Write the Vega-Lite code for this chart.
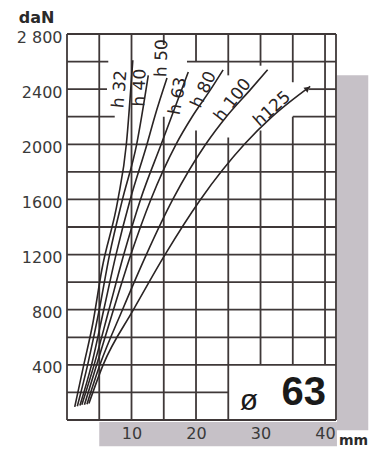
{
  "$schema": "https://vega.github.io/schema/vega-lite/v6.json",
  "width": 269,
  "height": 386,
  "autosize": "none",
  "padding": {"left": 67, "top": 34, "right": 39, "bottom": 32},
  "background": "white",
  "config": {"view": {"stroke": null}, "font": "DejaVu Sans"},
  "datasets": {
    "shadow": [
      {"x": 41.85, "x2": 46.7, "y": -75, "y2": 2500},
      {"x": 5.0, "x2": 41.85, "y": -15, "y2": -190}
    ],
    "vgrid": [
      {"x": 0, "y": 0, "y2": 2800},
      {"x": 5, "y": 0, "y2": 2800},
      {"x": 10, "y": 0, "y2": 2800},
      {"x": 15, "y": 0, "y2": 2200},
      {"x": 15, "y": 2720, "y2": 2800},
      {"x": 20, "y": 0, "y2": 2100},
      {"x": 20, "y": 2600, "y2": 2800},
      {"x": 25, "y": 0, "y2": 2050},
      {"x": 25, "y": 2500, "y2": 2800},
      {"x": 30, "y": 400, "y2": 2100},
      {"x": 30, "y": 2570, "y2": 2800},
      {"x": 35, "y": 400, "y2": 2200},
      {"x": 35, "y": 2450, "y2": 2800},
      {"x": 40, "y": 400, "y2": 2800},
      {"x": 41.7, "y": 0, "y2": 2800}
    ],
    "hgrid": [
      {"y": 0, "x": 0, "x2": 41.7},
      {"y": 200, "x": 0, "x2": 25},
      {"y": 400, "x": 0, "x2": 41.7},
      {"y": 600, "x": 0, "x2": 41.7},
      {"y": 800, "x": 0, "x2": 41.7},
      {"y": 1000, "x": 0, "x2": 41.7},
      {"y": 1200, "x": 0, "x2": 41.7},
      {"y": 1400, "x": 0, "x2": 41.7},
      {"y": 1600, "x": 0, "x2": 41.7},
      {"y": 1800, "x": 0, "x2": 41.7},
      {"y": 2000, "x": 0, "x2": 41.7},
      {"y": 2200, "x": 0, "x2": 7.4},
      {"y": 2200, "x": 35, "x2": 41.7},
      {"y": 2400, "x": 0, "x2": 6.2},
      {"y": 2400, "x": 37.5, "x2": 41.7},
      {"y": 2600, "x": 0, "x2": 6.4},
      {"y": 2600, "x": 18.6, "x2": 41.7},
      {"y": 2800, "x": 0, "x2": 41.7}
    ],
    "curves": [
      {"h": "h32", "x": 1.2, "y": 95}, {"h": "h32", "x": 2.6, "y": 400}, {"h": "h32", "x": 4.0, "y": 700}, {"h": "h32", "x": 5.4, "y": 1090}, {"h": "h32", "x": 7.9, "y": 1600}, {"h": "h32", "x": 9.2, "y": 2000}, {"h": "h32", "x": 10.2, "y": 2610},
      {"h": "h40", "x": 1.6, "y": 100}, {"h": "h40", "x": 3.2, "y": 400}, {"h": "h40", "x": 5.0, "y": 800}, {"h": "h40", "x": 6.6, "y": 1200}, {"h": "h40", "x": 8.6, "y": 1600}, {"h": "h40", "x": 10.8, "y": 2000}, {"h": "h40", "x": 12.6, "y": 2500},
      {"h": "h50", "x": 2.0, "y": 105}, {"h": "h50", "x": 3.8, "y": 400}, {"h": "h50", "x": 5.7, "y": 800}, {"h": "h50", "x": 7.6, "y": 1200}, {"h": "h50", "x": 9.8, "y": 1600}, {"h": "h50", "x": 12.4, "y": 2000}, {"h": "h50", "x": 13.6, "y": 2200}, {"h": "h50", "x": 15.5, "y": 2480},
      {"h": "h63", "x": 2.3, "y": 110}, {"h": "h63", "x": 4.2, "y": 400}, {"h": "h63", "x": 6.5, "y": 800}, {"h": "h63", "x": 8.8, "y": 1200}, {"h": "h63", "x": 11.4, "y": 1600}, {"h": "h63", "x": 14.6, "y": 2000}, {"h": "h63", "x": 16.2, "y": 2200}, {"h": "h63", "x": 18.8, "y": 2525},
      {"h": "h80", "x": 2.7, "y": 110}, {"h": "h80", "x": 4.6, "y": 400}, {"h": "h80", "x": 7.2, "y": 800}, {"h": "h80", "x": 9.9, "y": 1200}, {"h": "h80", "x": 13.0, "y": 1600}, {"h": "h80", "x": 16.9, "y": 2000}, {"h": "h80", "x": 19.4, "y": 2200}, {"h": "h80", "x": 22.3, "y": 2400}, {"h": "h80", "x": 24.2, "y": 2540},
      {"h": "h100", "x": 3.1, "y": 115}, {"h": "h100", "x": 5.1, "y": 400}, {"h": "h100", "x": 8.6, "y": 800}, {"h": "h100", "x": 12.3, "y": 1200}, {"h": "h100", "x": 16.4, "y": 1600}, {"h": "h100", "x": 21.5, "y": 2000}, {"h": "h100", "x": 24.7, "y": 2200}, {"h": "h100", "x": 28.5, "y": 2400}, {"h": "h100", "x": 31.1, "y": 2540},
      {"h": "h125", "x": 3.4, "y": 120}, {"h": "h125", "x": 5.6, "y": 400}, {"h": "h125", "x": 10.3, "y": 800}, {"h": "h125", "x": 15.2, "y": 1200}, {"h": "h125", "x": 20.7, "y": 1600}, {"h": "h125", "x": 27.5, "y": 2000}, {"h": "h125", "x": 31.8, "y": 2200}, {"h": "h125", "x": 37.7, "y": 2420}
    ],
    "labels": [
      {"t": "h 32", "x": 8.2, "y": 2400, "a": 275},
      {"t": "h 40", "x": 11.3, "y": 2410, "a": 272},
      {"t": "h 50", "x": 14.7, "y": 2625, "a": 272},
      {"t": "h 63", "x": 17.2, "y": 2350, "a": 280},
      {"t": "h 80", "x": 21.2, "y": 2395, "a": 295},
      {"t": "h 100", "x": 25.7, "y": 2320, "a": 308},
      {"t": "h125", "x": 31.8, "y": 2255, "a": 318}
    ]
  },
  "layer": [
    {
      "data": {"name": "shadow"},
      "mark": {"type": "rect", "color": "#c6c1c7", "clip": false},
      "encoding": {
        "x": {"field": "x", "type": "quantitative",
          "scale": {"domain": [0, 41.7], "nice": false, "zero": false},
          "axis": {"values": [10, 20, 30, 40], "title": "mm", "grid": false, "domain": false, "ticks": false, "zindex": 2,
            "labelFont": "DejaVu Sans", "labelFontSize": 16, "labelColor": "#3a3a3a", "labelPadding": 5, "labelFlush": false,
            "titleX": 286, "titleY": 24, "titleAlign": "center", "titleBaseline": "alphabetic",
            "titleFont": "DejaVu Sans", "titleFontSize": 14, "titleFontWeight": "bold", "titleColor": "#2a2a2a"}},
        "x2": {"field": "x2"},
        "y": {"field": "y", "type": "quantitative",
          "scale": {"domain": [0, 2800], "nice": false},
          "axis": {"values": [400, 800, 1200, 1600, 2000, 2400, 2800], "format": "d", "zindex": 2,
            "labelExpr": "datum.value == 2800 ? '2 800' : datum.label",
            "title": "daN", "titleAngle": 0, "titleX": -31, "titleY": -12, "titleAlign": "center", "titleBaseline": "alphabetic",
            "titleFont": "DejaVu Sans", "titleFontSize": 16, "titleFontWeight": "bold", "titleColor": "#2a2a2a",
            "grid": false, "domain": false, "ticks": false, "labelPadding": 5, "labelOffset": 3,
            "labelFont": "DejaVu Sans", "labelFontSize": 16, "labelColor": "#3a3a3a"}},
        "y2": {"field": "y2"}
      }
    },
    {
      "data": {"name": "vgrid"},
      "mark": {"type": "rule", "color": "#3f3838", "strokeWidth": 1.8},
      "encoding": {
        "x": {"field": "x", "type": "quantitative"},
        "y": {"field": "y", "type": "quantitative"},
        "y2": {"field": "y2"}
      }
    },
    {
      "data": {"name": "hgrid"},
      "mark": {"type": "rule", "color": "#3f3838", "strokeWidth": 1.8},
      "encoding": {
        "y": {"field": "y", "type": "quantitative"},
        "x": {"field": "x", "type": "quantitative"},
        "x2": {"field": "x2"}
      }
    },
    {
      "data": {"name": "curves"},
      "mark": {"type": "line", "color": "#2a2424", "strokeWidth": 1.6, "interpolate": "monotone"},
      "encoding": {
        "x": {"field": "x", "type": "quantitative"},
        "y": {"field": "y", "type": "quantitative"},
        "detail": {"field": "h"}
      }
    },
    {
      "data": {"values": [{"x": 37.3, "y": 2405}]},
      "mark": {"type": "point", "shape": "triangle-up", "filled": true, "color": "#2a2424", "size": 40, "angle": 51, "opacity": 1},
      "encoding": {
        "x": {"field": "x", "type": "quantitative"},
        "y": {"field": "y", "type": "quantitative"}
      }
    },
    {
      "data": {"name": "labels"},
      "mark": {"type": "text", "font": "DejaVu Sans", "fontSize": 17, "color": "#2a2424", "align": "center", "baseline": "middle"},
      "encoding": {
        "x": {"field": "x", "type": "quantitative"},
        "y": {"field": "y", "type": "quantitative"},
        "text": {"field": "t"},
        "angle": {"field": "a", "type": "quantitative", "scale": null}
      }
    },
    {
      "data": {"values": [{"t": "ø", "x": 28.2, "y": 75}]},
      "mark": {"type": "text", "font": "Liberation Sans", "fontSize": 30, "color": "#1a1a1a", "align": "center", "baseline": "alphabetic"},
      "encoding": {
        "x": {"field": "x", "type": "quantitative"},
        "y": {"field": "y", "type": "quantitative"},
        "text": {"field": "t"}
      }
    },
    {
      "data": {"values": [{"t": "63", "x": 36.7, "y": 110}]},
      "mark": {"type": "text", "font": "Liberation Sans", "fontSize": 40, "fontWeight": "bold", "color": "#1a1a1a", "align": "center", "baseline": "alphabetic"},
      "encoding": {
        "x": {"field": "x", "type": "quantitative"},
        "y": {"field": "y", "type": "quantitative"},
        "text": {"field": "t"}
      }
    }
  ]
}
